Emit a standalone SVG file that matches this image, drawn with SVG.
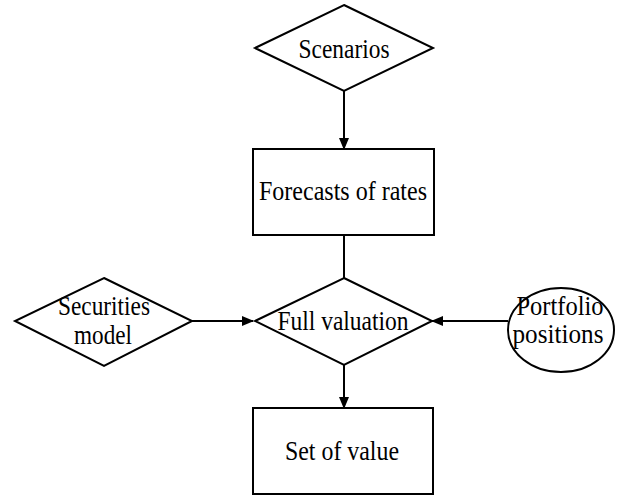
<svg xmlns="http://www.w3.org/2000/svg" width="622" height="495" viewBox="0 0 622 495">
<defs>
<marker id="arr" markerWidth="12" markerHeight="10" refX="11" refY="5" orient="auto" markerUnits="userSpaceOnUse">
<path d="M0,0 L12,5 L0,10 Z" fill="#000"/>
</marker>
<style>
.s{fill:#fff;stroke:#000;stroke-width:2}
.t{font-family:"Liberation Serif","Times New Roman",serif;font-size:27px;fill:#000;text-anchor:middle}
.c{stroke:#000;stroke-width:2;fill:none}
</style>
</defs>
<rect width="622" height="495" fill="#fff"/>
<g id="connectors">
<line class="c" x1="344" y1="91" x2="344" y2="149" marker-end="url(#arr)"/>
<line class="c" x1="344" y1="235" x2="344" y2="278"/>
<line class="c" x1="344" y1="365" x2="344" y2="408" marker-end="url(#arr)"/>
<line class="c" x1="192" y1="321" x2="253" y2="321" marker-end="url(#arr)"/>
<line class="c" x1="508" y1="321" x2="432" y2="321" marker-end="url(#arr)"/>
</g>
<g id="scenarios">
<polygon class="s" points="344,5 433,48 344,91 255,48"/>
<text class="t" x="344" y="58" textLength="91" lengthAdjust="spacingAndGlyphs">Scenarios</text>
</g>
<g id="forecasts">
<rect class="s" x="253" y="149" width="181" height="86"/>
<text class="t" x="343" y="200" textLength="168" lengthAdjust="spacingAndGlyphs">Forecasts of rates</text>
</g>
<g id="full-valuation">
<polygon class="s" points="344,278 432,321 344,365 255,321"/>
<text class="t" x="343" y="330" textLength="131" lengthAdjust="spacingAndGlyphs">Full valuation</text>
</g>
<g id="securities-model">
<polygon class="s" points="104,278 192,321 104,366 15,321"/>
<text class="t" x="104" y="315" textLength="92" lengthAdjust="spacingAndGlyphs">Securities</text>
<text class="t" x="103" y="344" textLength="58" lengthAdjust="spacingAndGlyphs">model</text>
</g>
<g id="portfolio-positions">
<ellipse class="s" cx="561" cy="330" rx="53" ry="42"/>
<text class="t" x="560" y="315" textLength="87" lengthAdjust="spacingAndGlyphs">Portfolio</text>
<text class="t" x="558" y="343" textLength="91" lengthAdjust="spacingAndGlyphs">positions</text>
</g>
<g id="set-of-value">
<rect class="s" x="253" y="408" width="180" height="86"/>
<text class="t" x="342" y="460" textLength="114" lengthAdjust="spacingAndGlyphs">Set of value</text>
</g>
</svg>
